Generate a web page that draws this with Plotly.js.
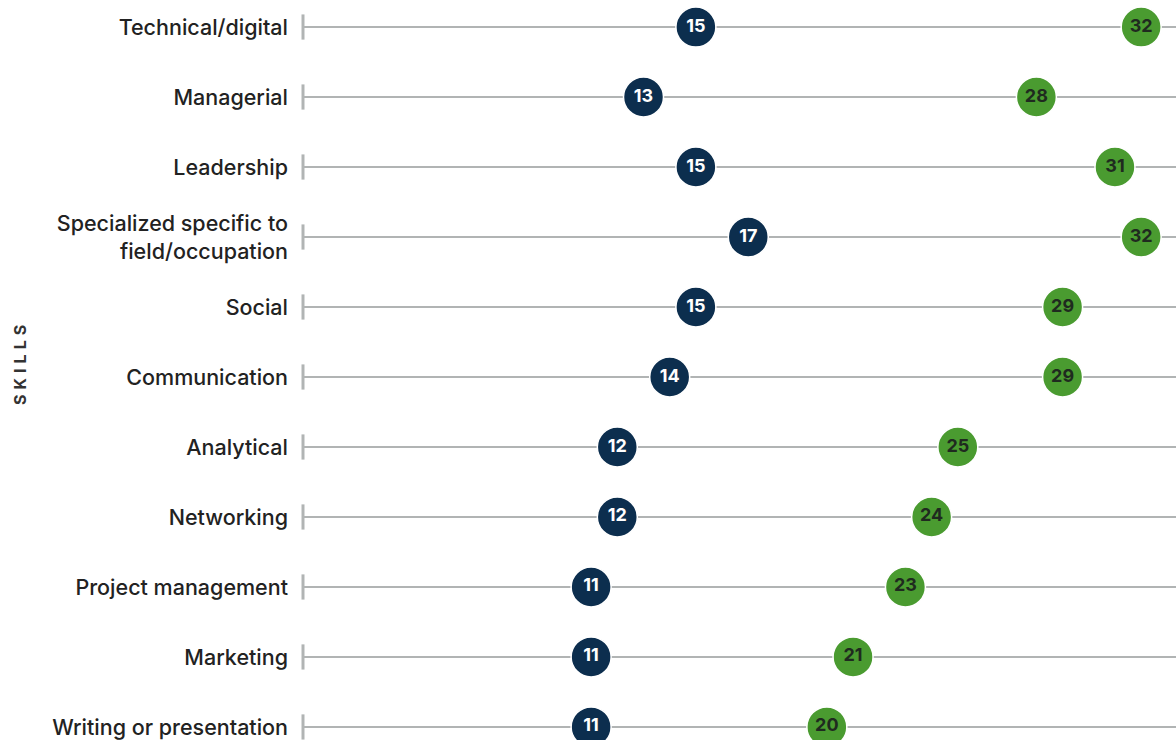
<!DOCTYPE html>
<html>
<head>
<meta charset="utf-8">
<script src="https://cdn.plot.ly/plotly-3.0.1.min.js"></script>
<style>
html,body{margin:0;padding:0;background:#fff;overflow:hidden;}
#chart{width:1176px;height:740px;}
</style>
</head>
<body>
<div id="chart"></div>
<script>
const skills = [
  "Technical/digital",
  "Managerial",
  "Leadership",
  "Specialized specific to<br>field/occupation",
  "Social",
  "Communication",
  "Analytical",
  "Networking",
  "Project management",
  "Marketing",
  "Writing or presentation"
];
const navyValues = [15, 13, 15, 17, 15, 14, 12, 12, 11, 11, 11];
const greenValues = [32, 28, 31, 32, 29, 29, 25, 24, 23, 21, 20];
const axisStart = skills.map(() => 0);

const NAVY = "#0c2e4e";
const GREEN = "#4a9b30";
const GRAY = "#b1b4b4";
const FONT = "Inter, 'Noto Sans', sans-serif";

const traces = [
  {
    type: "scatter", mode: "markers",
    x: axisStart, y: skills,
    marker: {symbol: "line-ns", size: 18, line: {color: GRAY, width: 3}},
    cliponaxis: false, hoverinfo: "skip", showlegend: false
  },
  {
    type: "scatter", mode: "markers+text",
    x: navyValues, y: skills,
    text: navyValues.map(String),
    textposition: "middle center",
    textfont: {family: FONT, size: 18, color: "#ffffff", weight: 700},
    marker: {size: 40, color: NAVY, line: {color: "#ffffff", width: 1.5}},
    cliponaxis: false, showlegend: false
  },
  {
    type: "scatter", mode: "markers+text",
    x: greenValues, y: skills,
    text: greenValues.map(String),
    textposition: "middle center",
    textfont: {family: FONT, size: 18, color: "#1f2a1f", weight: 700},
    marker: {size: 40, color: GREEN, line: {color: "#ffffff", width: 1.5}},
    cliponaxis: false, showlegend: false
  }
];

const layout = {
  width: 1176, height: 740,
  margin: {l: 303, r: 0, t: 0, b: 0, pad: 0},
  paper_bgcolor: "#ffffff", plot_bgcolor: "#ffffff",
  font: {family: FONT, color: "#222222"},
  xaxis: {
    range: [0, 33.33], showgrid: false, zeroline: false,
    showticklabels: false, ticks: "", showline: false, fixedrange: true
  },
  yaxis: {
    type: "category", categoryorder: "array", categoryarray: skills,
    range: [10.186, -0.386],
    showgrid: true, gridcolor: GRAY, gridwidth: 2.5,
    zeroline: false, showline: false, ticks: "",
    ticklabelstandoff: 14,
    tickfont: {family: FONT, size: 21.5, color: "#222222", weight: 500},
    fixedrange: true
  },
  annotations: [{
    xref: "paper", yref: "paper",
    x: (20 - 303) / 873, y: (740 - 365) / 740,
    xanchor: "center", yanchor: "middle",
    text: "S \u200AK \u200AI \u200AL \u200AL \u200AS", textangle: -90, showarrow: false,
    font: {family: FONT, size: 16, color: "#333333", weight: 700}
  }]
};

Plotly.newPlot("chart", traces, layout, {displayModeBar: false, staticPlot: true});
</script>
</body>
</html>
